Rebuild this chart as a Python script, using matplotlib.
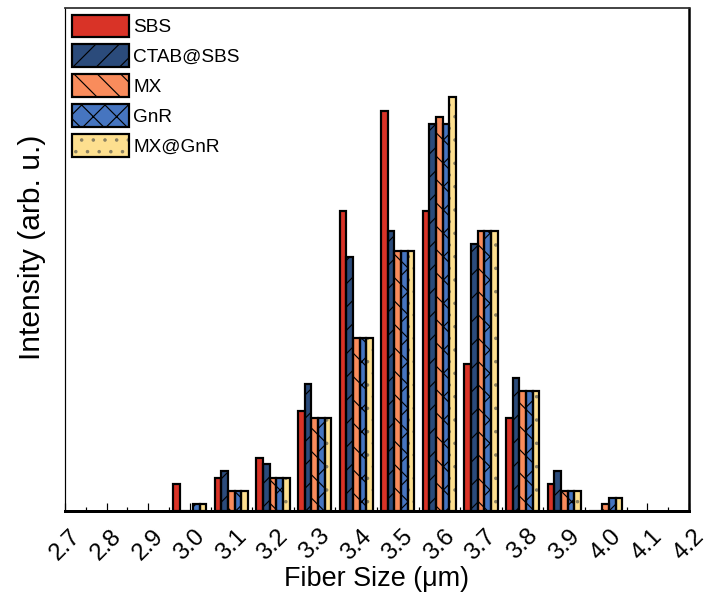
import numpy as np
import matplotlib
matplotlib.use('Agg')
import matplotlib.pyplot as plt
from matplotlib.ticker import MultipleLocator, FormatStrFormatter
from matplotlib.patches import Patch

DPI = 140

def pt(px):
    # pixel size -> points at this dpi
    return px * 72.0 / DPI

plt.rcParams['font.family'] = ['Liberation Sans', 'DejaVu Sans']
plt.rcParams['hatch.linewidth'] = 0.6

# fiber size bins (um) and counts
sizes = [3.0, 3.1, 3.2, 3.3, 3.4, 3.5, 3.6, 3.7, 3.8, 3.9, 4.0]
sbs = [4, 5, 8, 15, 45, 60, 45, 22, 14, 4, 0]
ctab_sbs = [0, 6, 7, 19, 38, 42, 58, 40, 20, 6, 0]
mx = [0, 3, 5, 14, 26, 39, 59, 42, 18, 3, 1]
gnr = [1, 3, 5, 14, 26, 39, 58, 42, 18, 3, 2]
mx_gnr = [1, 3, 5, 14, 26, 39, 62, 42, 18, 3, 2]

labels = ['SBS', 'CTAB@SBS', 'MX', 'GnR', 'MX@GnR']
series = [sbs, ctab_sbs, mx, gnr, mx_gnr]
colors = ['#D93327', '#2B4B7B', '#F98C5C', '#4675C0', '#FDDF8F']
hatches = ['', '//', '\\\\', 'xx', '..']
hatch_cols = ['black', 'black', 'black', 'black', '#8a8060']

fig = plt.figure(figsize=(709 / DPI, 607 / DPI), dpi=DPI)
ax = fig.add_axes([65 / 709, 1 - 511 / 607, (689 - 65) / 709, (511 - 8) / 607])

w = 0.016
lw = pt(2.2)
x = np.array(sizes)
handles = []
for i, (vals, c, h, hc) in enumerate(zip(series, colors, hatches, hatch_cols)):
    pos = x + (i - 2) * w
    # fill + hatch, then black outline on top
    ax.bar(pos, vals, width=w, color=c, edgecolor=hc, linewidth=0, hatch=h, zorder=2)
    ax.bar(pos, vals, width=w, fill=False, edgecolor='black', linewidth=lw, zorder=3)
    handles.append((Patch(facecolor=c, edgecolor=hc, hatch=h, linewidth=0),
                    Patch(fill=False, edgecolor='black', linewidth=lw)))

ax.set_xlim(2.7, 4.2)
ax.set_ylim(0, 75.4)
ax.xaxis.set_major_locator(MultipleLocator(0.1))
ax.xaxis.set_minor_locator(MultipleLocator(0.05))
ax.xaxis.set_major_formatter(FormatStrFormatter('%.1f'))
ax.tick_params(axis='x', which='major', direction='in', length=pt(8), width=pt(1.2),
               labelsize=pt(24), pad=pt(14), rotation=45)
ax.tick_params(axis='x', which='minor', direction='in', length=pt(4), width=pt(1.2))
ax.set_yticks([])

ax.spines['bottom'].set_linewidth(pt(3))
ax.spines['right'].set_linewidth(pt(2.5))
ax.spines['top'].set_linewidth(pt(1.8))
ax.spines['top'].set_color('#333333')
ax.spines['left'].set_linewidth(pt(1.2))

ax.set_xlabel('Fiber Size (\u03bcm)', fontsize=pt(27), labelpad=pt(2))
ax.set_ylabel('Intensity (arb. u.)', fontsize=pt(30))
ax.yaxis.set_label_coords(-0.03, 0.525)

ax.legend(handles, labels, loc='upper left', frameon=False, fontsize=pt(19),
          handlelength=3.0, handleheight=1.47, labelspacing=0.37,
          handletextpad=0.25, borderpad=0.35, borderaxespad=0)

fig.savefig('out.png', dpi=DPI)
